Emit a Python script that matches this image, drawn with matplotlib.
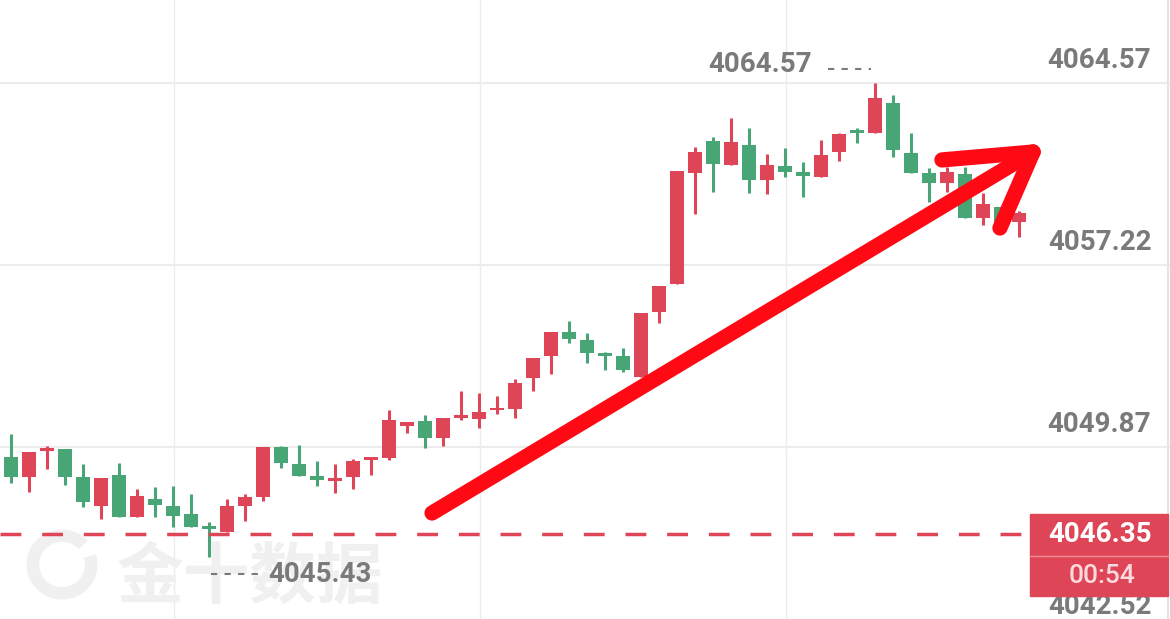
import matplotlib
matplotlib.use('Agg')
import matplotlib.pyplot as plt
from matplotlib.patches import Rectangle, Arc
import numpy as np

# candle data (red = up, green = down)
opens = [4049.47, 4048.66, 4049.71, 4049.79, 4048.66, 4047.49, 4048.74, 4047.04, 4047.77, 4047.49,
         4047.16, 4046.64, 4046.44, 4047.49, 4047.85, 4049.87, 4049.18, 4048.70, 4048.50, 4048.66,
         4049.35, 4049.43, 4050.72, 4050.92, 4050.23, 4051.04, 4051.00, 4051.36, 4051.41, 4052.66,
         4053.55, 4054.52, 4054.19, 4053.63, 4053.55, 4052.70, 4055.32, 4056.45, 4060.94, 4062.23,
         4061.26, 4062.07, 4060.65, 4061.22, 4060.98, 4060.78, 4061.79, 4062.59, 4062.55, 4063.76,
         4061.75, 4060.94, 4060.53, 4060.90, 4059.12, 4059.56, 4058.96]
highs = [4050.40, 4049.67, 4049.91, 4049.79, 4049.18, 4048.62, 4049.22, 4048.17, 4048.25, 4048.29,
         4047.97, 4046.84, 4047.77, 4047.97, 4049.87, 4049.91, 4049.95, 4049.30, 4049.18, 4049.39,
         4049.43, 4051.36, 4050.88, 4051.16, 4051.04, 4052.13, 4052.05, 4051.93, 4052.62, 4053.47,
         4054.52, 4054.96, 4054.47, 4053.71, 4053.87, 4055.28, 4056.37, 4061.02, 4061.99, 4062.39,
         4063.16, 4062.75, 4061.70, 4061.95, 4061.38, 4062.27, 4062.55, 4062.75, 4064.57, 4064.09,
         4062.55, 4061.14, 4061.18, 4061.18, 4060.13, 4059.56, 4059.40]
lows = [4048.42, 4048.05, 4048.98, 4048.34, 4047.45, 4046.96, 4047.04, 4047.04, 4047.04, 4046.64,
        4046.64, 4045.43, 4046.44, 4046.88, 4047.69, 4049.02, 4048.70, 4048.29, 4048.01, 4048.17,
        4048.74, 4049.35, 4050.44, 4049.83, 4049.91, 4050.96, 4050.64, 4051.20, 4051.04, 4052.13,
        4052.82, 4054.07, 4053.26, 4052.98, 4052.90, 4052.70, 4054.88, 4056.45, 4059.28, 4060.17,
        4061.26, 4060.13, 4060.09, 4060.78, 4059.97, 4060.78, 4061.42, 4062.15, 4062.55, 4061.58,
        4060.94, 4059.77, 4060.17, 4059.12, 4058.84, 4058.47, 4058.35]
closes = [4048.66, 4049.67, 4049.79, 4048.66, 4047.65, 4048.62, 4047.04, 4047.89, 4047.53, 4047.08,
          4046.64, 4046.56, 4047.49, 4047.85, 4049.87, 4049.22, 4048.70, 4048.54, 4048.58, 4049.30,
          4049.43, 4050.96, 4050.88, 4050.23, 4051.04, 4051.16, 4051.28, 4051.45, 4052.46, 4053.47,
          4054.52, 4054.23, 4053.67, 4053.55, 4052.98, 4055.28, 4056.37, 4061.02, 4061.79, 4061.30,
          4062.19, 4060.65, 4061.26, 4060.98, 4060.82, 4061.66, 4062.51, 4062.55, 4063.97, 4061.87,
          4060.94, 4060.53, 4060.98, 4059.12, 4059.69, 4058.84, 4059.32]

axis_ticks = [4064.57, 4057.22, 4049.87, 4042.52]
max_price = 4064.57
min_price = 4045.43
last_price = 4046.35
countdown = '00:54'
time_grid = [9.05, 26.05, 43.05]

RED = '#de4658'
GREEN = '#48a676'
GRAY = '#7a7a7a'
LABEL = dict(family='Roboto', fontweight='bold', fontsize=20)

fig = plt.figure(figsize=(11.7, 6.19), dpi=100)
ax = fig.add_axes([0, 0, 1, 1])
ax.set_xlim(-0.611, 64.389)
ax.set_ylim(4042.92, 4067.92)
ax.axis('off')

# grid
for t in axis_ticks:
    ax.axhline(t, color='#ececec', lw=1.5, zorder=0)
for t in time_grid:
    ax.axvline(t, color='#ececec', lw=1.0, zorder=0)
ax.axvline(64.27, color='#e4e4e4', lw=1.5, zorder=0)

# watermark
ax.text(0.1, 0.035, '金十数据', transform=ax.transAxes, fontsize=48, fontweight='bold',
        color='#f0f0f0', family=['Noto Sans CJK SC', 'DejaVu Sans'], zorder=0.5)
ax.add_patch(Arc((0.053, 0.088), 0.05, 0.093, theta1=60, theta2=390, transform=ax.transAxes,
                 color='#f0f0f0', lw=9, zorder=0.5))

# candles
x = np.arange(len(opens))
o = np.array(opens)
c = np.array(closes)
colors = [RED if cc >= oo else GREEN for oo, cc in zip(o, c)]
ax.vlines(x, lows, highs, colors=colors, lw=2.2, zorder=2)
body_lo = np.minimum(o, c)
body_h = np.maximum(np.abs(c - o), 0.1)
ax.bar(x, body_h, bottom=body_lo, width=0.83, color=colors, zorder=3)

# last price line
ax.plot([-0.611, 56.6], [last_price, last_price], color=RED, lw=2.5, dashes=(6, 6), zorder=4)

# right axis labels
for t in axis_ticks:
    ax.text(63.35, t + 0.36, f'{t:.2f}', ha='right', va='bottom', color=GRAY, zorder=5, **LABEL)

# high / low markers
ax.text(38.72, max_price + 0.2, f'{max_price:.2f}', ha='left', va='bottom', color=GRAY,
        zorder=5, **LABEL)
ax.plot([45.4, 47.8], [max_price + 0.57, max_price + 0.57], color=GRAY, lw=1.5,
        dashes=(3, 3.5), zorder=5)
ax.plot([11.1, 14.0], [min_price - 0.7, min_price - 0.7], color=GRAY, lw=1.5,
        dashes=(3, 3.5), zorder=5)
ax.text(14.3, min_price - 0.7, f'{min_price:.2f}', ha='left', va='center', color=GRAY,
        zorder=5, **LABEL)

# current price box
ax.add_patch(Rectangle((56.6, 4043.85), 7.7, 3.31, color=RED, zorder=6))
ax.plot([56.6, 64.3], [4045.47, 4045.47], color='#f08a95', lw=1, zorder=7)
ax.text(63.4, 4046.32, f'{last_price:.2f}', ha='right', va='center', color='white',
        zorder=8, **LABEL)
ax.text(60.6, 4044.66, countdown, ha='center', va='center', fontsize=19,
        color='#fbd9dd', family='Roboto', fontweight='medium', zorder=8)

# hand-drawn arrow
arrow_kw = dict(color='#ff0a14', lw=11, solid_capstyle='round', zorder=9)
ax.plot([23.39, 56.78], [4047.20, 4061.78], **arrow_kw)
ax.plot([51.72, 56.78], [4061.46, 4061.78], **arrow_kw)
ax.plot([54.94, 56.78], [4058.71, 4061.78], **arrow_kw)

fig.savefig('out.png', dpi=100, facecolor='white')
